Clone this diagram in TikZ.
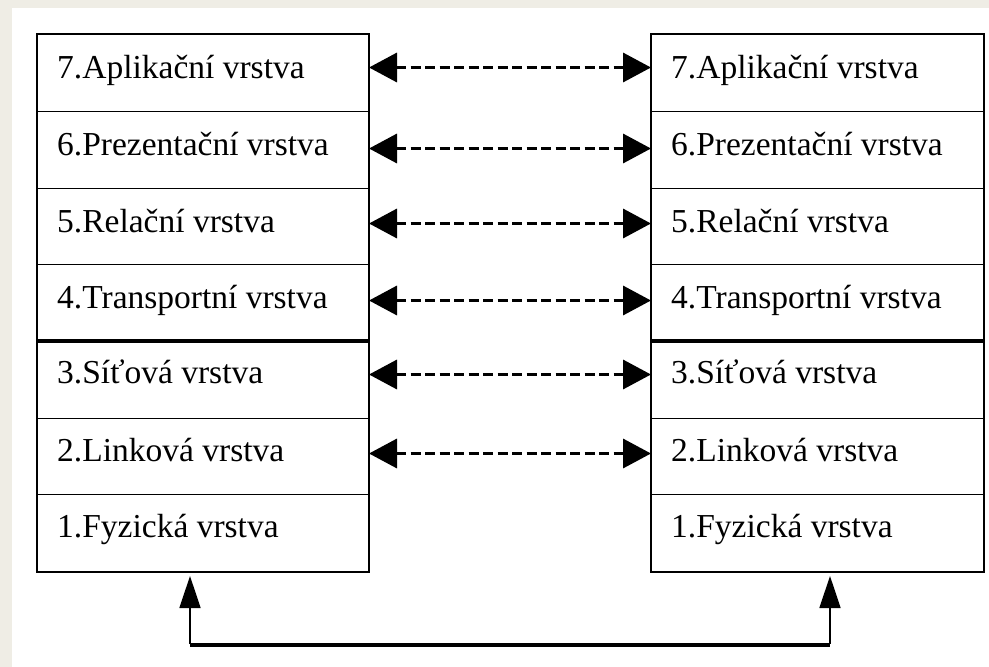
\documentclass[tikz,border=0pt]{standalone}
\usepackage{fontspec}
\setmainfont{Liberation Serif}
\usetikzlibrary{arrows.meta,calc}
\definecolor{beige}{RGB}{239,237,229}
\begin{document}
\begin{tikzpicture}[x=1pt,y=-1pt,
  row/.style={draw=black,line width=1pt,rectangle,inner sep=0pt,anchor=north west},
  lrow/.style={row,minimum width=331pt},
  rrow/.style={row,minimum width=332pt},
  lbl/.style={anchor=base west,inner sep=0pt,font=\fontsize{33.5}{40}\selectfont},
  dasharrow/.style={line width=3.5pt,dash pattern=on 10pt off 4.5pt,
    {Triangle[length=28pt,width=29pt]}-{Triangle[length=28pt,width=29pt]}},
  uparrow/.style={line width=1.5pt,-{Triangle[length=32pt,width=21pt]}},
  outer/.style={line width=2pt},
  thickline/.style={line width=3.5pt},
  baseline/.style={line width=3.5pt}]
% background
\fill[beige] (0,0) rectangle (989,667);
\fill[white] (12,8) rectangle (989,667);
\useasboundingbox (0,0) rectangle (989,667);

% left stack
\node[lrow,minimum height=77pt] (L7) at (37,34) {};
\node[lrow,minimum height=77pt] (L6) at (37,111) {};
\node[lrow,minimum height=76pt] (L5) at (37,188) {};
\node[lrow,minimum height=76pt] (L4) at (37,264) {};
\node[lrow,minimum height=78pt] (L3) at (37,340) {};
\node[lrow,minimum height=76pt] (L2) at (37,418) {};
\node[lrow,minimum height=77pt] (L1) at (37,494) {};
% right stack
\node[rrow,minimum height=77pt] (R7) at (651,34) {};
\node[rrow,minimum height=77pt] (R6) at (651,111) {};
\node[rrow,minimum height=76pt] (R5) at (651,188) {};
\node[rrow,minimum height=76pt] (R4) at (651,264) {};
\node[rrow,minimum height=78pt] (R3) at (651,340) {};
\node[rrow,minimum height=76pt] (R2) at (651,418) {};
\node[rrow,minimum height=77pt] (R1) at (651,494) {};

\draw[outer] (L7.north west) rectangle (L1.south east);
\draw[outer] (R7.north west) rectangle (R1.south east);
\draw[thickline] (L4.south west) -- (L4.south east);
\draw[thickline] (R4.south west) -- (R4.south east);

% labels
\foreach \s/\t in {L/l,R/r}{
  \node[lbl] (\t7) at ($(\s7.north west)+(20,44)$) {7.Aplikační vrstva};
  \node[lbl] (\t6) at ($(\s6.north west)+(20,44)$) {6.Prezentační vrstva};
  \node[lbl] (\t5) at ($(\s5.north west)+(20,44)$) {5.Relační vrstva};
  \node[lbl] (\t4) at ($(\s4.north west)+(20,44)$) {4.Transportní vrstva};
  \node[lbl] (\t3) at ($(\s3.north west)+(20,43)$) {3.Síťová vrstva};
  \node[lbl] (\t2) at ($(\s2.north west)+(20,43)$) {2.Linková vrstva};
  \node[lbl] (\t1) at ($(\s1.north west)+(20,43)$) {1.Fyzická vrstva};
}

% peer-to-peer dashed arrows
\draw[dasharrow] ([yshift=5.5pt]L7.east) -- ([yshift=5.5pt]R7.west);
\draw[dasharrow] ([yshift=1.5pt]L6.east) -- ([yshift=1.5pt]R6.west);
\draw[dasharrow] ([yshift=3pt]L5.east) -- ([yshift=3pt]R5.west);
\draw[dasharrow] ([yshift=2pt]L4.east) -- ([yshift=2pt]R4.west);
\draw[dasharrow] ([yshift=5pt]L3.east) -- ([yshift=5pt]R3.west);
\draw[dasharrow] ([yshift=3pt]L2.east) -- ([yshift=3pt]R2.west);

% physical link
\coordinate (bl) at (190,645);
\coordinate (br) at (830,645);
\draw[baseline] (bl) -- (br);
\draw[uparrow,shorten >=4pt] ([yshift=1pt]bl) -- (bl |- L1.south);
\draw[uparrow,shorten >=4pt] ([yshift=1pt]br) -- (br |- R1.south);
\end{tikzpicture}
\end{document}
